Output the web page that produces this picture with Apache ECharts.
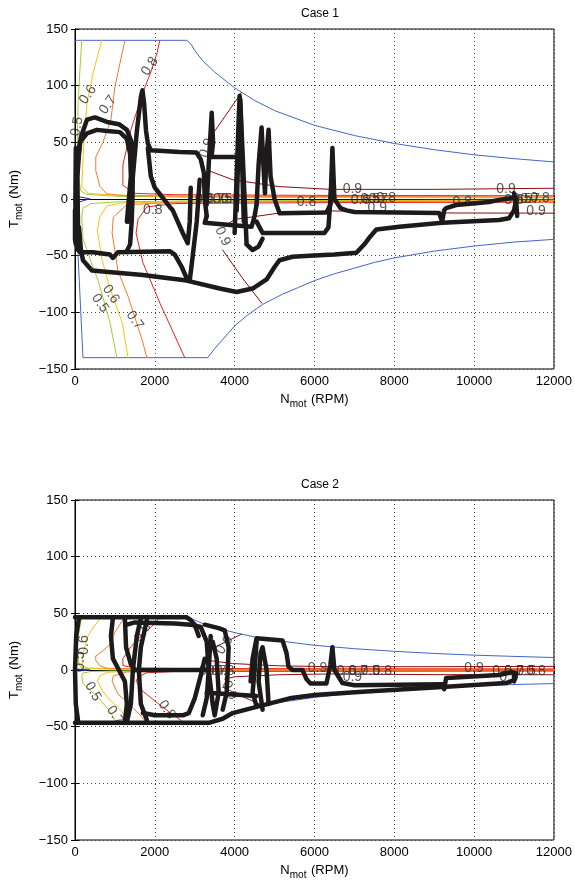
<!DOCTYPE html>
<html><head><meta charset="utf-8">
<script src="https://cdn.jsdelivr.net/npm/echarts@6/dist/echarts.min.js"></script>
<style>html,body{margin:0;padding:0;background:#fff}#c{width:575px;height:889px}</style>
</head><body><div id="c"></div>
<script>
// ---------- axes ----------
const xTicks = [0, 2000, 4000, 6000, 8000, 10000, 12000];
const yTicks = [-150, -100, -50, 0, 50, 100, 150];
const titles = ['Case 1', 'Case 2'];

// ---------- Case 1: torque envelope & efficiency contours [rpm, Nm] ----------
const c1Blue = [[0,140],[2800,140],[2900,137],[3000,131],[3200,122],[3500,112],[4000,98],[4500,87],[5000,78],[6000,65],[7000,56],[8000,49],[9000,43.5],[10000,39],[11000,35.6],[12000,32.7]];
const c1BlueNeg = [[75,-49],[200,-140],[3325,-140],[3500,-132],[3700,-124],[4000,-112],[4300,-103],[4700,-93],[5200,-84],[5600,-78],[6000,-72],[6500,-66],[7000,-61],[7500,-56],[8000,-52],[9000,-46],[10000,-41.5],[11000,-38],[12000,-35.6]];
const c1Wedge = [[80,2],[250,1],[380,0],[250,-1],[80,-3]];
const c1C05 = [[170,140],[120,112],[80,86],[60,60],[80,30],[100,15],[150,7],[300,4],[1000,2.5],[3000,1.5],[12000,0.9]];
const c1C05n = [[12000,-0.9],[3000,-1.6],[1000,-2.6],[400,-4],[200,-8],[170,-15],[200,-35],[450,-60],[580,-72],[870,-108],[1050,-140]];
const c1C06 = [[670,140],[460,112],[300,85],[210,43],[170,11],[330,5],[1000,3.5],[3000,2.2],[12000,1.3]];
const c1C06n = [[12000,-1.3],[3000,-2.2],[1200,-3.5],[800,-6],[620,-16],[560,-28],[680,-54],[870,-78],[1180,-109],[1330,-140]];
const c1C07 = [[1250,140],[1000,99],[900,70],[700,50],[520,37],[520,25],[625,11],[800,4.5],[1200,3],[2500,2.6],[6000,2.2],[12000,1.8]];
const c1C07n = [[12000,-1.8],[6000,-2.2],[2500,-3],[1300,-5],[960,-16],[930,-30],[1075,-63],[1330,-86],[1680,-124],[1800,-140]];
const c1C08 = [[2125,140],[2050,128],[1900,112],[1700,94],[1400,61],[1200,30],[1200,12],[1500,5],[2500,3.8],[6000,3.2],[12000,2.8]];
const c1C08n = [[12000,-2.8],[6000,-3.2],[2500,-4],[1800,-7],[1580,-18],[1530,-30],[1700,-56],[2130,-92],[2750,-140]];
const c1C09 = [[4170,94],[3800,75],[3460,58],[3350,40],[3350,25],[3950,17],[5100,11],[6400,8.5],[9000,8.5],[12000,9.5]];
const c1C09n = [[12000,-12.5],[9000,-12.3],[6400,-10.5],[5100,-12.5],[4000,-18],[3750,-24]];
const c1C09n2 = [[3700,-45],[4200,-70],[4680,-92]];

// ---------- Case 1: operating points [rpm, Nm] ----------
const c1Left = [[20,45],[10,0],[20,-40]];
const c1Traj1 = [[60,-30],[30,0],[60,30],[150,55],[300,70],[500,72],[800,68],[1100,66],[1300,61],[1420,50],[1450,30],[1440,0],[1420,-20],[1380,-40],[1300,-46]];
const c1Traj2 = [[80,-40],[60,20],[120,50],[300,58],[550,61],[800,60],[1125,59],[1300,53],[1380,40],[1400,20],[1350,0],[1300,-20]];
const c1Traj3 = [[0,-10],[0,-36],[80,-45],[125,-47],[450,-47],[875,-49],[950,-52],[1075,-47],[2375,-46],[2500,-49],[2675,-60],[2825,-72]];
const c1Traj4 = [[100,-25],[150,-45],[200,-54],[425,-63],[700,-64],[1700,-67],[2800,-72],[3625,-79],[4050,-82],[4450,-79],[4800,-71],[5000,-60],[5125,-54],[5450,-51],[5875,-50],[6500,-49],[7050,-47.5],[7250,-40],[7400,-33],[7550,-27],[8125,-24.5],[9200,-21],[10625,-18.5],[10875,-17],[11000,-10],[11050,-1],[11000,5]];
const c1Peak1 = [[1350,-20],[1450,20],[1550,60],[1650,90],[1690,96],[1730,85],[1780,60],[1825,49],[1900,43],[2625,41.5],[3042,41],[3150,35],[3230,23],[3250,0],[3300,-15]];
const c1Seg5 = [[1825,45],[1900,20],[2000,10],[2375,-7],[2450,-10],[2700,-30],[2825,-39],[2875,-20],[2900,10]];
const c1Seg6 = [[3125,17],[3050,-20],[2950,-50],[2875,-72]];
const c1Seg7 = [[3300,-15],[3250,-21],[3600,-22],[4425,-24.5],[4500,-15],[4550,-5]];
const c1Peak2 = [[3300,-5],[3350,30],[3425,76],[3460,50],[3420,37],[3800,37],[4150,37]];
const c1Peak3 = [[4000,-30],[4050,20],[4100,70],[4125,91],[4150,80],[4200,40],[4250,0],[4300,-40]];
const c1Peak3b = [[4050,-10],[4100,50],[4140,88],[4180,40],[4230,-20]];
const c1Peak4 = [[4550,-5],[4600,30],[4675,63],[4720,30],[4760,5],[4800,40],[4850,61],[4900,20],[5000,0],[5125,-12.5],[6300,-12],[6400,-5],[6450,45],[6500,0],[6650,-8],[6800,-10],[7000,-11.5],[9125,-12.3],[9200,-20],[9250,-10],[9300,-8],[9550,-5.3],[10375,-2.6],[10600,-1],[10950,0.9],[11050,0],[11080,-15]];
const c1Seg8 = [[4550,-20],[4700,-30],[6250,-30],[6350,-25],[6420,10]];
const c1Seg9 = [[4300,-40],[4450,-45],[4600,-42],[4700,-35]];

// ---------- Case 2: torque envelope & efficiency contours [rpm, Nm] ----------
const c2Blue = [[0,47],[2800,47],[3000,44],[3200,41],[3500,37.6],[4000,33],[4500,29.2],[5000,26.2],[6000,21.8],[7000,18.8],[8000,16.5],[9000,14.6],[10000,13.1],[11000,12],[12000,11]];
const c2BlueNeg = [[25,-16.5],[70,-47],[3325,-47],[3500,-44.4],[3700,-41.7],[4000,-37.6],[4300,-34.6],[4700,-31.2],[5200,-28.2],[5600,-26.2],[6000,-24.2],[6500,-22.2],[7000,-20.5],[7500,-18.8],[8000,-17.5],[9000,-15.5],[10000,-13.9],[11000,-12.8],[12000,-12]];
const c2Wedge = [[80,0.7],[250,0.3],[380,0],[250,-0.3],[80,-1]];
const c2C05 = [[170,47],[120,37.6],[80,28.9],[60,20.2],[80,10],[100,5],[150,2.4],[300,1.3],[1000,0.84],[3000,0.5],[12000,0.3]];
const c2C05n = [[12000,-0.3],[3000,-0.5],[1000,-0.87],[400,-1.3],[200,-2.7],[170,-5],[200,-11.8],[450,-20.2],[580,-24.2],[870,-36.3],[1050,-47]];
const c2C06 = [[670,47],[460,37.6],[300,28.6],[210,14.5],[170,3.7],[330,1.7],[1000,1.2],[3000,0.74],[12000,0.44]];
const c2C06n = [[12000,-0.44],[3000,-0.74],[1200,-1.2],[800,-2],[620,-5.4],[560,-9.4],[680,-18.1],[870,-26.2],[1180,-36.6],[1330,-47]];
const c2C07 = [[1250,47],[1000,33.3],[900,23.5],[700,16.8],[520,12.4],[520,8.4],[625,3.7],[800,1.5],[1200,1],[2500,0.87],[6000,0.74],[12000,0.6]];
const c2C07n = [[12000,-0.6],[6000,-0.74],[2500,-1],[1300,-1.7],[960,-5.4],[930,-10],[1075,-21.2],[1330,-28.9],[1680,-41.7],[1800,-47]];
const c2C08 = [[2125,47],[2050,43],[1900,37.6],[1700,31.6],[1400,20.5],[1200,10],[1200,4],[1500,1.7],[2500,1.3],[6000,1.1],[12000,0.94]];
const c2C08n = [[12000,-0.94],[6000,-1.1],[2500,-1.3],[1800,-2.4],[1580,-6],[1530,-10],[1700,-18.8],[2130,-30.9],[2750,-47]];
const c2C09 = [[4170,31.6],[3800,25.2],[3460,19.5],[3350,13.4],[3350,8.4],[3950,5.7],[5100,3.7],[6400,2.9],[9000,2.9],[12000,3.2]];
const c2C09n = [[12000,-4.2],[9000,-4.1],[6400,-3.5],[5100,-4.2],[4000,-6],[3750,-8]];
const c2C09n2 = [[3700,-15.1],[4200,-23.5],[4680,-30.9]];

// ---------- Case 2: operating points [rpm, Nm] ----------
const c2Top = [[0,46.5],[2800,46.5],[2900,44],[3000,40],[3100,30]];
const c2Top2 = [[1300,40],[1500,42],[2500,41],[2900,40],[3150,38],[3300,25],[3350,0],[3300,-25],[3200,-40]];
const c2Left = [[100,46],[30,30],[0,0],[20,-30],[80,-46]];
const c2Loop1 = [[950,46],[900,30],[950,10],[1100,0],[1250,-10],[1300,-30],[1250,-46]];
const c2Loop2 = [[1250,46],[1280,20],[1400,5],[1500,0]];
const c2Loop3 = [[1650,46],[1550,30],[1450,0],[1400,-30],[1300,-46]];
const c2Loop4 = [[1800,44],[1650,20],[1600,0],[1650,-30],[1800,-44]];
const c2Zero = [[1500,0],[3300,0]];
const c2Bot2 = [[1700,-38],[2000,-40],[2700,-40],[2850,-38],[3000,-25],[3150,-5],[3250,10]];
const c2Bottom = [[0,-46.5],[3375,-46.5],[3700,-43],[3950,-38],[4550,-32.5],[5375,-25],[6000,-22],[7300,-19],[9200,-15],[10800,-11.5],[11000,-9],[11000,-3]];
const c2Mid1 = [[3250,40],[3600,37],[3750,35],[3850,20],[3800,-20],[3700,-35]];
const c2Mid2 = [[3300,-20],[3700,-21],[4550,-23]];
const c2Top3 = [[4400,-10],[4450,10],[4550,28],[5200,26],[5300,15],[5350,3],[5450,0],[5700,0],[5800,-8],[5900,-12],[6300,-12],[6400,5],[6450,20],[6500,0],[6700,-11.5],[7000,-13.5],[9200,-12.5],[9250,-17],[9300,-7],[10625,-4.4],[10950,-1.8],[11050,-3],[11000,-10]];
const c2Loop5 = [[4850,-30],[4800,0],[4700,20],[4650,15],[4600,-10],[4700,-35]];
const c2Loop6 = [[3400,30],[3350,0],[3450,-30],[3500,-40],[3600,-20],[3550,10],[3450,25]];
const c2Loop7 = [[4550,25],[4500,0],[4450,-20],[4550,-32]];

// ---------- contour labels [rpm, Nm, text, rotation] ----------
const c1Labels = [
 [325,92,'0.6',55],[825,83,'0.7',55],[1875,117,'0.8',55],[50,64,'0.5',80],[3300,45,'0.9',70],
 [1950,-10,'0.8',0],
 [3250,0,'0.6',0],[3500,0,'0.7',0],[3700,0,'0.5',0],[3900,0,'0.8',0],
 [5800,-3,'0.8',0],[6950,9,'0.9',0],[7150,-1,'0.6',0],[7400,0,'0.5',0],[7600,0,'0.7',0],[7800,1,'0.8',0],[7575,-8,'0.9',0],
 [9700,-2.5,'0.8',0],[10800,9,'0.9',0],[11000,-1,'0.6',0],[11200,0,'0.5',0],[11400,0,'0.7',0],[11650,1,'0.8',0],[11550,-11,'0.9',0],
 [625,-92,'0.5',-55],[900,-84,'0.6',-55],[1500,-107,'0.7',-55],[3700,-33,'0.9',-65]
];
const c2Labels = [
 [220,22,'0.6',90],[120,8,'0.5',90],[450,-19,'0.5',-60],[1000,-40,'0.7',-55],[1700,33,'0.8',60],[2300,-35,'0.8',-55],
 [3750,22,'0.9',55],[3875,-18,'0.9',-65],
 [3350,-1,'0.6',0],[3550,-1,'0.7',0],[3750,-1,'0.8',0],
 [6075,2,'0.9',0],[6800,-1,'0.6',0],[7100,-1,'0.7',0],[7400,-1,'0.5',0],[7700,-1,'0.8',0],[6950,-6,'0.9',0],
 [10000,2,'0.9',0],[10700,-1,'0.6',0],[11000,-1,'0.7',0],[11300,-1,'0.5',0],[11550,-1,'0.8',0],[10875,-6,'0.9',0]
];

// ---------- styles ----------
const FONT = 'Liberation Sans, Arial, Helvetica, sans-serif';
const COL = {blue:'#4466c4', wedge:'#2a2a96', c05:'#a2cc36', c06:'#f4c40c', c07:'#f47a2c', c08:'#e8241c', c09:'#8c0c0c', traj:'#1c1a1a'};
const minus = v => String(v).replace('-', '\u2212');

const grids = [
  {left:75, top:29, width:480, height:340, show:true, borderColor:'#000', borderWidth:1},
  {left:75, top:500, width:480, height:340, show:true, borderColor:'#000', borderWidth:1}
];
const xAxes = [], yAxes = [];
[0,1].forEach(g => {
  xAxes.push({gridIndex:g, type:'value', min:0, max:12000, interval:2000, position:'bottom',
    name:'{a|N}{s|mot}{a| (RPM)}', nameLocation:'middle', nameGap:21,
    nameTextStyle:{rich:{a:{fontSize:13, fontFamily:FONT, color:'#000'}, s:{fontSize:10, fontFamily:FONT, color:'#000', padding:[9,1,0,0]}}},
    axisLine:{lineStyle:{color:'#000', width:1}}, axisTick:{inside:true, length:4, lineStyle:{color:'#000'}},
    axisLabel:{color:'#000', fontSize:13, fontFamily:FONT, margin:6, formatter: v => String(v)},
    splitLine:{show:true, lineStyle:{color:'#444', type:[1,3], width:1}}});
  yAxes.push({gridIndex:g, type:'value', min:-150, max:150, interval:50, position:'left',
    name:'{a|T}{s|mot}{a| (Nm)}', nameLocation:'middle', nameGap:51, nameRotate:90,
    nameTextStyle:{rich:{a:{fontSize:13, fontFamily:FONT, color:'#000'}, s:{fontSize:10, fontFamily:FONT, color:'#000', padding:[9,1,0,0]}}},
    axisLine:{lineStyle:{color:'#000', width:1}}, axisTick:{inside:true, length:4, lineStyle:{color:'#000'}},
    axisLabel:{color:'#000', fontSize:13, fontFamily:FONT, margin:7, formatter:minus},
    splitLine:{show:true, lineStyle:{color:'#444', type:[1,3], width:1}}});
});
[0,1].forEach(g => {
  xAxes.push({gridIndex:g, type:'value', min:0, max:12000, interval:2000, position:'top',
    axisLine:{lineStyle:{color:'#000'}}, axisTick:{inside:true, length:4, lineStyle:{color:'#000'}}, axisLabel:{show:false}, splitLine:{show:false}});
  yAxes.push({gridIndex:g, type:'value', min:-150, max:150, interval:50, position:'right',
    axisLine:{lineStyle:{color:'#000'}}, axisTick:{inside:true, length:4, lineStyle:{color:'#000'}}, axisLabel:{show:false}, splitLine:{show:false}});
});

const series = [];
function line(g, data, color, width, z) {
  series.push({type:'line', xAxisIndex:g, yAxisIndex:g, data:data, showSymbol:false, symbol:'none', silent:true,
    lineStyle:{color:color, width:width, join:'round', cap:'round'}, z:z, animation:false, clip:true});
}
function labels(g, arr) {
  series.push({type:'scatter', xAxisIndex:g, yAxisIndex:g, symbolSize:0, silent:true, z:3, animation:false,
    data: arr.map(a => ({value:[a[0], a[1]], name:a[2], label:{rotate:a[3]}})),
    label:{show:true, position:'inside', formatter:'{b}', color:'#2a2a2a', fontSize:14, fontFamily:FONT}});
}

// Case 1
[[c1Blue,COL.blue],[c1BlueNeg,COL.blue],[c1Wedge,COL.wedge],
 [c1C05,COL.c05],[c1C05n,COL.c05],[c1C06,COL.c06],[c1C06n,COL.c06],[c1C07,COL.c07],[c1C07n,COL.c07],
 [c1C08,COL.c08],[c1C08n,COL.c08],[c1C09,COL.c09],[c1C09n,COL.c09],[c1C09n2,COL.c09]].forEach(p => line(0, p[0], p[1], 1, 2));
labels(0, c1Labels);
[c1Left,c1Traj1,c1Traj2,c1Traj3,c1Traj4,c1Peak1,c1Seg5,c1Seg6,c1Seg7,c1Peak2,c1Peak3,c1Peak3b,c1Peak4,c1Seg8,c1Seg9].forEach(d => line(0, d, COL.traj, 4.5, 5));

// Case 2
[[c2Blue,COL.blue],[c2BlueNeg,COL.blue],[c2Wedge,COL.wedge],
 [c2C05,COL.c05],[c2C05n,COL.c05],[c2C06,COL.c06],[c2C06n,COL.c06],[c2C07,COL.c07],[c2C07n,COL.c07],
 [c2C08,COL.c08],[c2C08n,COL.c08],[c2C09,COL.c09],[c2C09n,COL.c09],[c2C09n2,COL.c09]].forEach(p => line(1, p[0], p[1], 1, 2));
labels(1, c2Labels);
[c2Top,c2Top2,c2Left,c2Loop1,c2Loop2,c2Loop3,c2Loop4,c2Zero,c2Bot2,c2Bottom,c2Mid1,c2Mid2,c2Top3,c2Loop5,c2Loop6,c2Loop7].forEach(d => line(1, d, COL.traj, 4.5, 5));

const chart = echarts.init(document.getElementById('c'), null, {renderer:'canvas'});
chart.setOption({
  animation:false,
  backgroundColor:'#fff',
  title: titles.map((t, i) => ({text:t, left:315, top: i === 0 ? 3 : 474, textAlign:'center',
    textStyle:{fontSize:12, fontWeight:'normal', color:'#000', fontFamily:FONT}})),
  grid: grids, xAxis: xAxes, yAxis: yAxes, series: series
});
</script></body></html>
